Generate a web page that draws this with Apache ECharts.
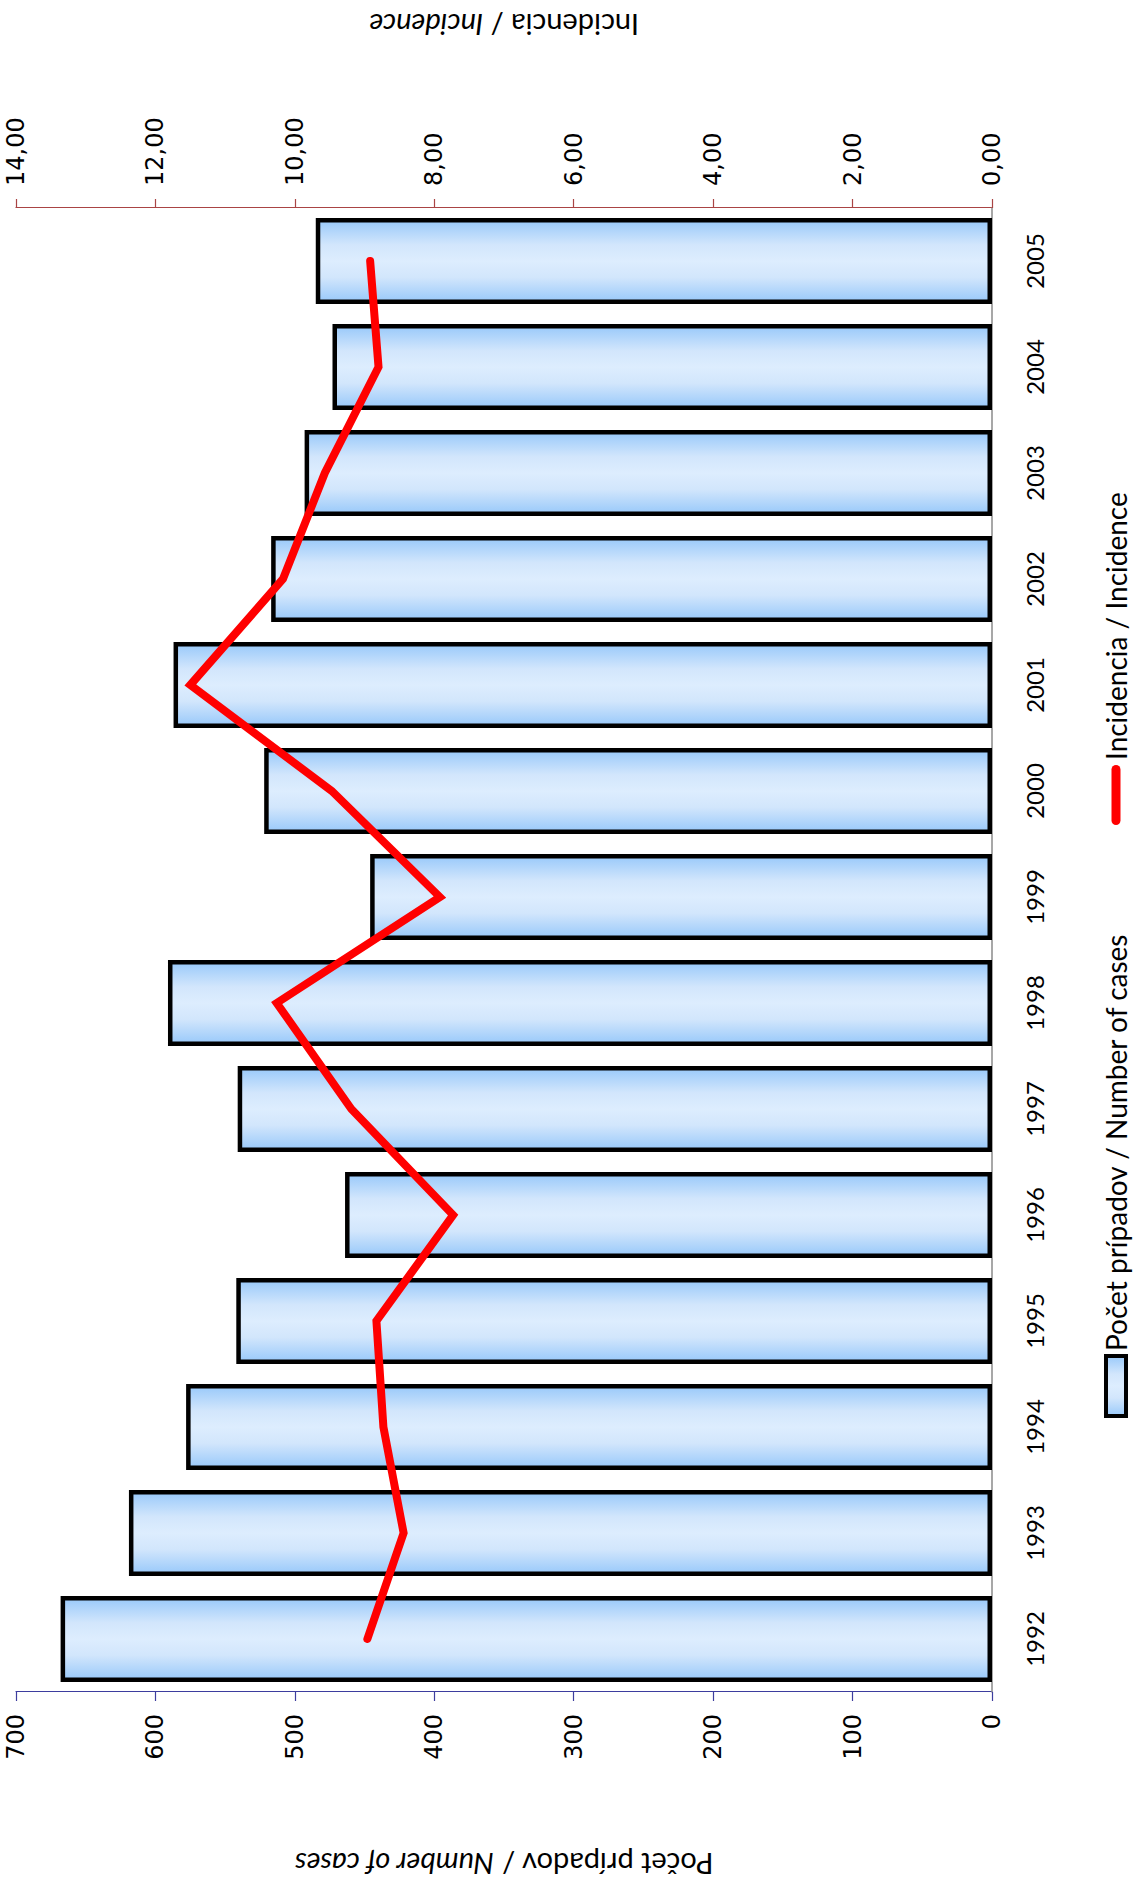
<!DOCTYPE html>
<html>
<head>
<meta charset="utf-8">
<title>Počet prípadov a incidencia 1992–2005</title>
<script src="https://cdn.jsdelivr.net/npm/echarts@6/dist/echarts.min.js"></script>
<style>
  html, body { margin: 0; padding: 0; background: #fff; overflow: hidden; }
  body { width: 1144px; height: 1887px; position: relative; }
  /* chart is laid out landscape and turned a quarter turn counter-clockwise */
  #chart {
    position: absolute; left: 0; top: 0;
    width: 1887px; height: 1144px;
    transform-origin: 0 0;
    transform: translateY(1887px) rotate(-90deg);
  }
</style>
</head>
<body>
<div id="chart"></div>
<script>
// Years on the category axis
const years = ['1992', '1993', '1994', '1995', '1996', '1997', '1998', '1999', '2000', '2001', '2002', '2003', '2004', '2005'];
// Number of cases per year (left axis)
const cases = [668, 619, 578, 542, 464, 541, 591, 446, 522, 587, 517, 493, 473, 485];
// Incidence per year (right axis)
const incidence = [8.96, 8.44, 8.73, 8.83, 7.73, 9.19, 10.26, 7.92, 9.47, 11.50, 10.17, 9.57, 8.80, 8.92];

const casesName = 'Počet prípadov / Number of cases';
const incidenceName = 'Incidencia / Incidence';

const tickFont = 'DejaVu Sans';
const textFont = 'Lato';

const barFill = new echarts.graphic.LinearGradient(0, 0, 1, 0, [
  { offset: 0, color: '#99C9FA' },
  { offset: 0.3, color: '#D2E6FC' },
  { offset: 0.5, color: '#DDEDFE' },
  { offset: 0.7, color: '#D2E6FC' },
  { offset: 1, color: '#99C9FA' }
]);

const chart = echarts.init(document.getElementById('chart'), null, { renderer: 'svg', width: 1887, height: 1144 });

chart.setOption({
  animation: false,
  backgroundColor: '#ffffff',
  grid: { left: 195, right: 208, top: 16, bottom: 152, containLabel: false, outerBoundsMode: 'none' },
  legend: [
    {
      data: [{ name: casesName, icon: 'rect' }],
      left: 464, top: 1097,
      itemWidth: 60, itemHeight: 20,
      itemStyle: { borderColor: '#000', borderWidth: 4 },
      textStyle: { fontFamily: textFont, fontSize: 28, color: '#000' },
      selectedMode: false
    },
    {
      data: [{ name: incidenceName, icon: 'path://M4.5,0H55.5A4.5,4.5,0,0,1,55.5,9H4.5A4.5,4.5,0,0,1,4.5,0Z' }],
      left: 1057, top: 1097,
      itemWidth: 60, itemHeight: 20,
      itemStyle: { borderWidth: 0 },
      textStyle: { fontFamily: textFont, fontSize: 28, color: '#000' },
      selectedMode: false
    }
  ],
  xAxis: {
    type: 'category',
    data: years,
    boundaryGap: true,
    axisLine: { show: true, lineStyle: { color: '#8a8a8a', width: 1.5 } },
    axisTick: { show: false },
    axisLabel: { fontFamily: textFont, fontSize: 24, color: '#000', margin: 30 },
    splitLine: { show: false }
  },
  yAxis: [
    {
      type: 'value',
      min: 0, max: 700, interval: 100,
      position: 'left',
      name: '{n|Počet prípadov / }{i|Number of cases}',
      nameLocation: 'middle',
      nameGap: 158,
      nameRotate: 90,
      nameTextStyle: {
        rich: {
          n: { fontFamily: textFont, fontSize: 29, color: '#000' },
          i: { fontFamily: textFont, fontSize: 29, color: '#000', fontStyle: 'italic' }
        }
      },
      axisLine: { show: true, lineStyle: { color: '#3d3d9e', width: 1.2 } },
      axisTick: { show: true, inside: false, length: 9, lineStyle: { color: '#3d3d9e', width: 1.2 } },
      axisLabel: { fontFamily: tickFont, fontSize: 24, color: '#000', margin: 22 },
      splitLine: { show: false }
    },
    {
      type: 'value',
      min: 0, max: 14, interval: 2,
      position: 'right',
      name: '{n|Incidencia / }{i|Incidence}',
      nameLocation: 'middle',
      nameGap: 168,
      nameRotate: 90,
      nameTextStyle: {
        rich: {
          n: { fontFamily: textFont, fontSize: 29, color: '#000' },
          i: { fontFamily: textFont, fontSize: 29, color: '#000', fontStyle: 'italic' }
        }
      },
      axisLine: { show: true, lineStyle: { color: '#a94444', width: 1.2 } },
      axisTick: { show: true, inside: false, length: 9, lineStyle: { color: '#a94444', width: 1.2 } },
      axisLabel: {
        fontFamily: tickFont, fontSize: 24, color: '#000', margin: 22,
        formatter: v => v.toFixed(2).replace('.', ',')
      },
      splitLine: { show: false }
    }
  ],
  series: [
    {
      name: casesName,
      type: 'bar',
      data: cases,
      yAxisIndex: 0,
      barWidth: '81%',
      itemStyle: { color: barFill, borderColor: '#000', borderWidth: 4.5 },
      z: 2
    },
    {
      name: incidenceName,
      type: 'line',
      data: incidence,
      yAxisIndex: 1,
      symbol: 'none',
      itemStyle: { color: '#ff0000' },
      lineStyle: { color: '#ff0000', width: 8, cap: 'round', join: 'miter' },
      z: 3
    }
  ]
});
</script>
</body>
</html>
